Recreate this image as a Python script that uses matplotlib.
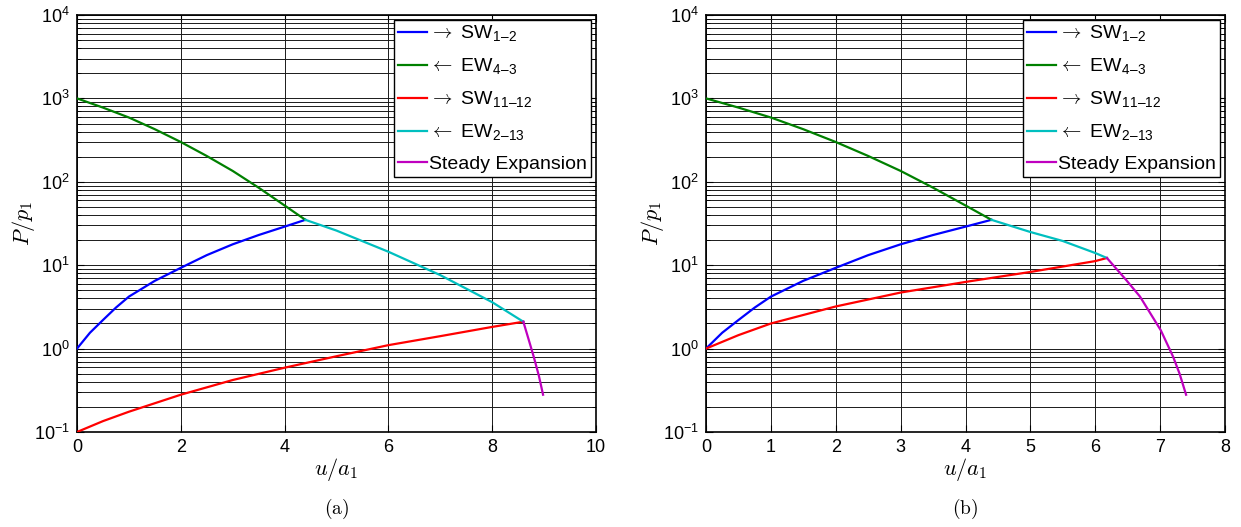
import matplotlib
matplotlib.use("Agg")
import matplotlib.pyplot as plt
from matplotlib.ticker import LogLocator, FixedLocator, NullFormatter, FixedFormatter

plt.rcParams['mathtext.fontset'] = 'cm'
plt.rcParams['font.family'] = ['Liberation Sans', 'DejaVu Sans']

# ---- data ----
# shared curves (both panels)
sw12_u = [0, 0.25, 0.5, 0.75, 1, 1.5, 2, 2.5, 3, 3.5, 4, 4.4]
sw12_p = [1.0, 1.55, 2.2, 3.1, 4.2, 6.5, 9.3, 13.2, 17.8, 23.0, 29.0, 35.0]
ew43_u = [0, 0.5, 1, 1.5, 2, 2.5, 3, 3.5, 4, 4.4]
ew43_p = [1000, 776, 590, 427, 300, 204, 135, 85, 52, 35]

# panel (a)
a_sw1112_u = [0, 0.5, 1, 2, 3, 4, 5, 6, 7, 8, 8.6]
a_sw1112_p = [0.1, 0.135, 0.175, 0.28, 0.42, 0.59, 0.81, 1.1, 1.41, 1.82, 2.1]
a_ew213_u = [4.4, 5, 6, 7, 8, 8.6]
a_ew213_p = [35, 26, 14.5, 7.6, 3.6, 2.1]
a_steady_u = [8.6, 8.7, 8.8, 8.9, 8.98]
a_steady_p = [2.1, 1.3, 0.8, 0.47, 0.28]

# panel (b)
b_sw1112_u = [0, 0.5, 1, 2, 3, 4, 5, 6, 6.18]
b_sw1112_p = [1.0, 1.45, 2.0, 3.2, 4.7, 6.3, 8.3, 11.2, 12.2]
b_ew213_u = [4.4, 5, 5.5, 6, 6.18]
b_ew213_p = [35, 25, 19.5, 14, 12.2]
b_steady_u = [6.18, 6.48, 6.69, 7.01, 7.2, 7.3, 7.4]
b_steady_p = [12.2, 6.6, 4.2, 1.66, 0.8, 0.5, 0.28]

labels = ['$\\rightarrow$ SW$_{\\mathregular{1\u20132}}$',
          '$\\leftarrow$ EW$_{\\mathregular{4\u20133}}$',
          '$\\rightarrow$ SW$_{\\mathregular{11\u201312}}$',
          '$\\leftarrow$ EW$_{\\mathregular{2\u201313}}$',
          'Steady Expansion']
colors = ['#0000ff', '#008000', '#ff0000', '#00bfbf', '#bf00bf']

panels = [
    dict(series=[(sw12_u, sw12_p), (ew43_u, ew43_p), (a_sw1112_u, a_sw1112_p),
                 (a_ew213_u, a_ew213_p), (a_steady_u, a_steady_p)],
         xlim=(0, 10), xticks=[0, 2, 4, 6, 8, 10], tag='$\\mathrm{(a)}$'),
    dict(series=[(sw12_u, sw12_p), (ew43_u, ew43_p), (b_sw1112_u, b_sw1112_p),
                 (b_ew213_u, b_ew213_p), (b_steady_u, b_steady_p)],
         xlim=(0, 8), xticks=[0, 1, 2, 3, 4, 5, 6, 7, 8], tag='$\\mathrm{(b)}$'),
]
ytick_vals = [0.1, 1, 10, 100, 1000, 10000]
ytick_labels = ['$\\mathregular{10^{-1}}$', '$\\mathregular{10^{0}}$', '$\\mathregular{10^{1}}$',
                '$\\mathregular{10^{2}}$', '$\\mathregular{10^{3}}$', '$\\mathregular{10^{4}}$']

W, H = 1241, 527
fig = plt.figure(figsize=(W / 100, H / 100), dpi=100)
lefts = [77, 706]
for p, left in zip(panels, lefts):
    ax = fig.add_axes([left / W, 95 / H, 519 / W, 417 / H])
    for (u, pv), c, lab in zip(p['series'], colors, labels):
        ax.plot(u, pv, color=c, lw=1.6, label=lab, zorder=3)
    ax.set_yscale('log')
    ax.set_ylim(0.1, 1e4)
    ax.set_xlim(*p['xlim'])
    ax.xaxis.set_major_locator(FixedLocator(p['xticks']))
    ax.set_xticklabels([str(t) for t in p['xticks']])
    ax.yaxis.set_major_locator(FixedLocator(ytick_vals))
    ax.yaxis.set_major_formatter(FixedFormatter(ytick_labels))
    ax.yaxis.set_minor_locator(LogLocator(base=10, subs=range(2, 10), numticks=20))
    ax.yaxis.set_minor_formatter(NullFormatter())
    ax.grid(True, which='both', axis='y', color='0.1', lw=0.7, zorder=0)
    ax.grid(True, which='major', axis='x', color='0.1', lw=0.7, zorder=0)
    ax.tick_params(which='both', direction='in', top=True, right=True, labelsize=13, pad=5)
    ax.tick_params(which='major', length=5)
    ax.tick_params(which='minor', length=3)
    for s in ax.spines.values():
        s.set_linewidth(1.2)
    ax.set_xlabel('$u/a_1$', fontsize=16, labelpad=0)
    ax.set_ylabel('$P/p_1$', fontsize=16, labelpad=-2)
    leg = ax.legend(loc='upper right', fontsize=14, handlelength=1.5, handletextpad=0.1,
                    labelspacing=0.65, borderpad=0.2, borderaxespad=0.25,
                    fancybox=False, framealpha=1, edgecolor='black')
    leg.get_frame().set_linewidth(1.0)
    fig.text((left + 519 / 2) / W, 1 - 509 / H, p['tag'], ha='center', va='center',
             fontsize=14)

fig.savefig('out.png', dpi=100)
